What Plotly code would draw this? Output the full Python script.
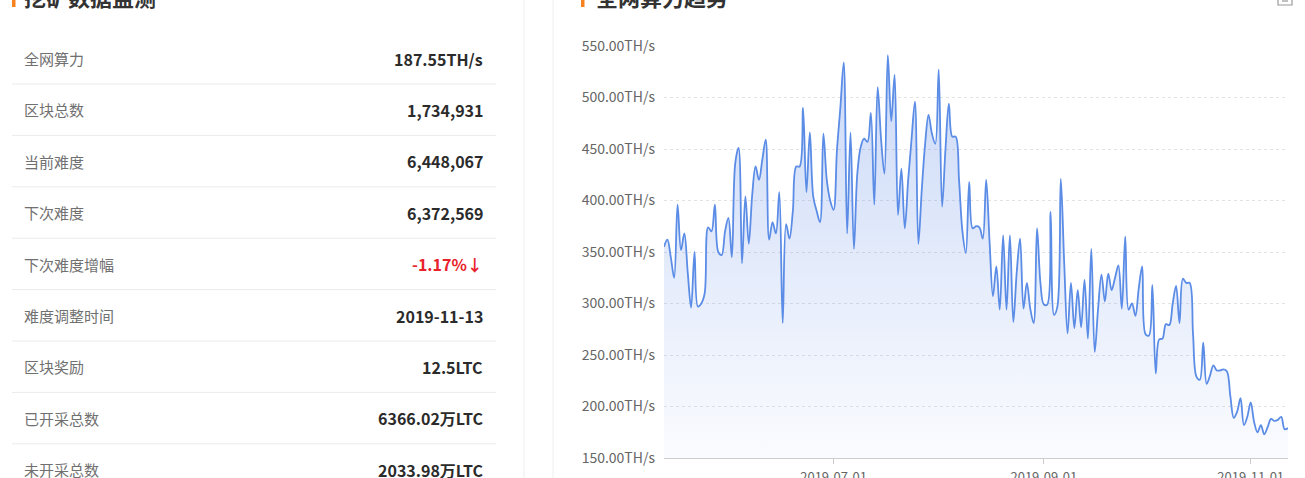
import pandas as pd
import plotly.graph_objects as go

# ---- Summary table (left card) ----
row_labels = ["全网算力", "区块总数", "当前难度", "下次难度", "下次难度增幅",
              "难度调整时间", "区块奖励", "已开采总数", "未开采总数"]
row_values = ["187.55TH/s", "1,734,931", "6,448,067", "6,372,569", "-1.17%↓",
              "2019-11-13", "12.5LTC", "6366.02万LTC", "2033.98万LTC"]

# ---- Daily network hashrate (TH/s), 2019-05-12 .. 2019-11-12 ----
start_date = "2019-05-12"
hashrate = [
    355, 362, 345, 325, 396, 352, 368, 330, 296, 350,
    297, 300, 310, 374, 370, 396, 350, 347, 370, 383,
    345, 436, 451, 339, 404, 358, 405, 433, 420, 440,
    459, 362, 379, 368, 408, 281, 377, 363, 390, 433,
    433, 490, 408, 466, 404, 390, 379, 465, 420, 400,
    391, 449, 490, 534, 368, 466, 353, 426, 452, 460,
    457, 485, 396, 510, 460, 426, 541, 477, 522, 386,
    431, 373, 420, 460, 496, 358, 410, 455, 483, 465,
    455, 527, 394, 450, 494, 462, 462, 420, 370, 349,
    418, 373, 375, 374, 363, 420, 360, 307, 336, 294,
    366, 294, 366, 282, 330, 363, 295, 320, 295, 281,
    373, 320, 299, 299, 389, 289, 297, 421, 340, 271,
    320, 276, 313, 277, 323, 266, 353, 253, 295, 328,
    302, 329, 313, 325, 337, 295, 365, 294, 300, 288,
    315, 336, 270, 269, 318, 232, 265, 266, 280, 279,
    300, 317, 281, 324, 320, 320, 270, 229, 226, 262,
    222, 230, 240, 235, 235, 236, 234, 210, 189, 195,
    208, 182, 190, 204, 185, 175, 182, 173, 180, 188,
    186, 187, 190, 178, 179,
]
y_ticks = [150, 200, 250, 300, 350, 400, 450, 500, 550]
x_ticks = ["2019-07-01", "2019-09-01", "2019-11-01"]

dates = pd.date_range(start_date, periods=len(hashrate), freq="D")

W, H = 1305, 478
FONT = "Noto Sans CJK SC"


def px(x):
    return x / W


def py(y):
    return 1 - y / H


fig = go.Figure()
fig.add_trace(go.Scatter(
    x=dates, y=hashrate, mode="lines",
    line=dict(color="#5b8ce6", width=1.8, shape="spline", smoothing=1.0),
    fill="tozeroy",
    fillgradient=dict(type="vertical", start=150, stop=550,
                      colorscale=[[0, "rgba(90,135,230,0.03)"],
                                  [1, "rgba(90,135,230,0.32)"]]),
    hoverinfo="x+y", showlegend=False,
))

shapes = []
annotations = []

# card borders
shapes.append(dict(type="line", xref="paper", yref="paper",
                   x0=px(524), x1=px(524), y0=0, y1=1,
                   line=dict(color="#eeeeee", width=1)))
shapes.append(dict(type="line", xref="paper", yref="paper",
                   x0=px(553), x1=px(553), y0=0, y1=1,
                   line=dict(color="#eeeeee", width=1)))

# card titles with orange markers (top edge of the page crops them)
for bx, tx, title in [(12, 22, "挖矿数据监测"), (581, 594, "全网算力趋势")]:
    shapes.append(dict(type="rect", xref="paper", yref="paper",
                       x0=px(bx), x1=px(bx + 3.5), y0=py(7), y1=py(-12),
                       fillcolor="#f5821f", line=dict(width=0)))
    annotations.append(dict(xref="paper", yref="paper", x=px(tx), y=py(-4),
                            xanchor="left", yanchor="middle", showarrow=False,
                            text="<b>%s</b>" % title,
                            font=dict(family=FONT, size=22, color="#333333")))

# download icon at the top-right corner
shapes.append(dict(type="rect", xref="paper", yref="paper",
                   x0=px(1278), x1=px(1292), y0=py(5), y1=py(-10),
                   line=dict(color="#999999", width=1.2)))
shapes.append(dict(type="line", xref="paper", yref="paper",
                   x0=px(1282), x1=px(1288), y0=py(1), y1=py(1),
                   line=dict(color="#999999", width=1.2)))

# table rows
row_pitch = 51.4
for k, (lab, val) in enumerate(zip(row_labels, row_values)):
    yc = 58.5 + k * row_pitch
    annotations.append(dict(xref="paper", yref="paper", x=px(22), y=py(yc),
                            xanchor="left", yanchor="middle", showarrow=False,
                            text=lab, font=dict(family=FONT, size=15, color="#707070")))
    color = "#e8222b" if val.startswith("-") else "#2b2b2b"
    annotations.append(dict(xref="paper", yref="paper", x=px(485), y=py(yc),
                            xanchor="right", yanchor="middle", showarrow=False,
                            text="<b>%s</b>" % val,
                            font=dict(family=FONT, size=16, color=color)))
    if k < len(row_labels) - 1:
        ys = 84 + k * row_pitch
        shapes.append(dict(type="line", xref="paper", yref="paper",
                           x0=px(12), x1=px(496), y0=py(ys), y1=py(ys),
                           line=dict(color="#ebebeb", width=1)))

fig.update_layout(
    width=W, height=H,
    margin=dict(l=0, r=0, t=0, b=0, autoexpand=False),
    paper_bgcolor="white", plot_bgcolor="white",
    shapes=shapes, annotations=annotations,
    font=dict(family=FONT, color="#666666"),
    xaxis=dict(domain=[px(664), px(1288)],
               range=[dates[0], dates[-1]],
               tickvals=x_ticks, ticktext=x_ticks,
               ticks="outside", ticklen=5, tickcolor="#cccccc",
               showline=True, linecolor="#cccccc", linewidth=1,
               showgrid=False, zeroline=False, automargin=False,
               ticklabelstandoff=2,
               tickfont=dict(family=FONT, size=13, color="#666666")),
    yaxis=dict(domain=[py(458), py(46)],
               range=[150, 550],
               tickvals=y_ticks, ticktext=["%.2fTH/s" % v for v in y_ticks],
               ticks="", showline=False, zeroline=False, automargin=False,
               showgrid=True, gridcolor="#e3e3e3", griddash="3px,3px",
               ticklabelstandoff=8,
               tickfont=dict(family=FONT, size=14, color="#666666")),
)

fig.write_html("out.html")
